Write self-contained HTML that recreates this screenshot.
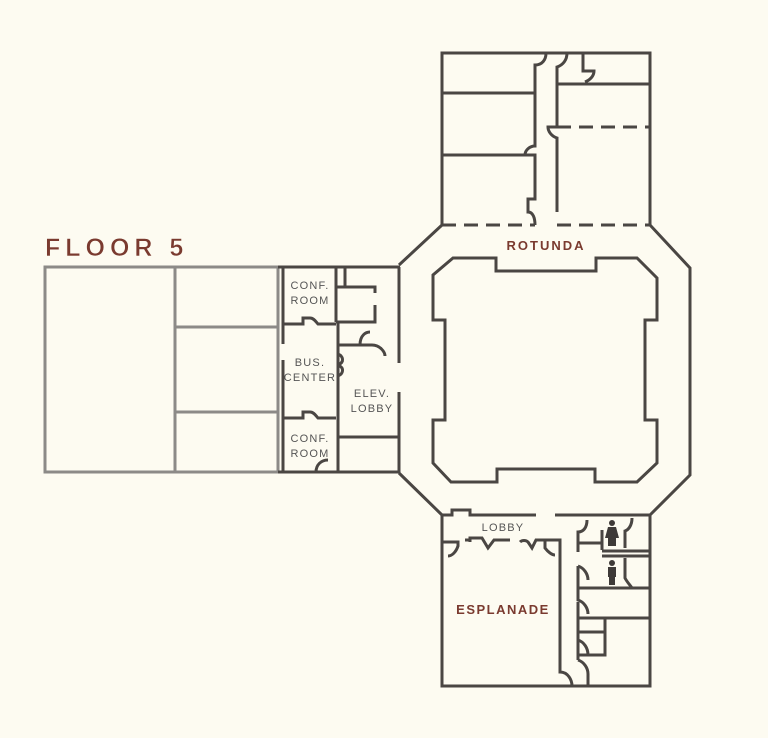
<!DOCTYPE html>
<html><head><meta charset="utf-8"><style>
html,body{margin:0;padding:0;background:#fdfbf1;}
svg{display:block}
text{font-family:"Liberation Sans","DejaVu Sans",sans-serif}
</style></head><body>
<svg width="768" height="738" viewBox="0 0 768 738" xmlns="http://www.w3.org/2000/svg">
<rect width="768" height="738" fill="#fdfbf1"/>
<g stroke="#8c8a87" stroke-width="3" fill="none">
<rect x="45" y="267" width="233" height="205"/>
<line x1="175" y1="267" x2="175" y2="472"/>
<line x1="175" y1="327" x2="278" y2="327"/>
<line x1="175" y1="412" x2="278" y2="412"/>
</g>
<g stroke="#4a4643" stroke-width="3" fill="none" stroke-linejoin="miter">
<line x1="278" y1="267" x2="400" y2="267"/>
<line x1="278" y1="472" x2="400" y2="472"/>
<line x1="283" y1="267" x2="283" y2="344"/>
<line x1="283" y1="360" x2="283" y2="472"/>
<line x1="336" y1="267" x2="336" y2="322"/>
<line x1="338" y1="322" x2="338" y2="472"/>
<line x1="345" y1="267" x2="345" y2="286"/>
<path d="M283,324 H303 V318 H310 C314,318 316,322 318,324 H336"/>
<path d="M283,418 H303 V412 H310 C314,412 316,416 318,418 H336"/>
<path d="M338,365 C345,362 343,356 338,354"/>
<path d="M338,365 C345,368 343,374 338,376"/>
<path d="M336,287 H375 V293"/>
<path d="M375,305 V322 H336"/>
<path d="M338,345 H360 C360,335 366,332 370,332"/>
<path d="M360,345 H372 C380,345 385,352 385,356"/>
<line x1="399" y1="267" x2="399" y2="363"/>
<line x1="399" y1="392" x2="399" y2="473"/>
<line x1="338" y1="437" x2="399" y2="437"/>
<path d="M316,472 C316,465 321,460 328,460"/>
<path d="M399,265 L442,225 M650,225 L690,268 V475 L650,515 M399,473 L442,515"/>
<path d="M453,258 H496 V271 H596 V258 H637 L657,278 V320 H645 V420 H657 V463 L637,482 H595 V469 H497 V482 H451 L433,463 V420 H445 V320 H433 V275 Z"/>
<path d="M442,225 V53 H650 V225"/>
<line x1="442" y1="93" x2="534" y2="93"/>
<line x1="442" y1="155" x2="535" y2="155"/>
<path d="M546,53 C546,60 542,65 535,65 V146 C530,146 525,150 525,155 H535 V199 H528 V212 C533,212 535,218 535,225"/>
<path d="M567,53 C567,60 563,65 557,67 V128"/>
<path d="M557,128 V127 H548 C548,131 551,136 557,138 V212"/>
<path d="M583,53 V71 H594 C594,76 590,80 585,82"/>
<line x1="557" y1="84" x2="650" y2="84"/>
<line x1="557" y1="127" x2="650" y2="127" stroke-dasharray="14,8"/>
<line x1="442" y1="225" x2="535" y2="225" stroke-dasharray="14,8"/>
<line x1="557" y1="225" x2="650" y2="225" stroke-dasharray="14,8"/>
<path d="M442,515 V686 H650 V515"/>
<path d="M442,515 H452 V510 H470 V515 H536"/>
<line x1="555" y1="515" x2="650" y2="515"/>
<path d="M442,542 H458 V546 C456,552 452,556 448,556 M470,542 V538 H482 L488,548 L494,540 H510 M520,542 C522,540 526,540 528,542 L532,548 L536,540 H545 V548 C548,552 552,555 555,555 M545,540 H560 V672 C568,672 572,680 572,686"/>
<path d="M465,540 H470"/>
<path d="M587,520 C587,528 583,532 578,532 V552"/>
<line x1="578" y1="543" x2="602" y2="543"/>
<line x1="602" y1="530" x2="602" y2="550"/>
<line x1="602" y1="551" x2="649" y2="551"/>
<line x1="602" y1="556" x2="649" y2="556"/>
<path d="M632,518 C632,526 628,530 625,531 V548 M625,558 V578 C627,582 630,585 632,588"/>
<path d="M578,566 C584,568 588,574 588,580 M578,566 V588 H649"/>
<path d="M578,588 V600 C584,602 588,608 588,614 M578,602 V618 H649"/>
<path d="M578,618 V655 H605 V618 M578,632 H605 M578,640 C584,642 588,648 588,655"/>
<path d="M578,660 C584,662 588,668 588,674 V686 M578,660 V655"/>
</g>
<g fill="#3e3a38">
<circle cx="612" cy="523" r="3"/>
<path d="M608,527 H616 L619,538 H616 V546 H608 V538 H605 Z"/>
<circle cx="612" cy="563" r="3"/>
<rect x="608" y="567" width="8" height="10"/>
<rect x="609" y="576" width="6" height="9"/>
</g>
<text x="45" y="256" font-size="25" fill="#7a3a2f" letter-spacing="5" font-weight="bold" stroke="#fdfbf1" stroke-width="0.6">FLOOR 5</text>
<text x="546" y="250" font-size="13" font-weight="bold" fill="#7a3a2f" letter-spacing="2" text-anchor="middle">ROTUNDA</text>
<text x="503" y="614" font-size="13" font-weight="bold" fill="#7a3a2f" letter-spacing="1.5" text-anchor="middle">ESPLANADE</text>
<g font-size="11" fill="#555" text-anchor="middle" letter-spacing="1.2">
<text x="310" y="289">CONF.</text><text x="310" y="304">ROOM</text>
<text x="310" y="366">BUS.</text><text x="310" y="381">CENTER</text>
<text x="372" y="397">ELEV.</text><text x="372" y="412">LOBBY</text>
<text x="310" y="442">CONF.</text><text x="310" y="457">ROOM</text>
<text x="503" y="531">LOBBY</text>
</g>
</svg>
</body></html>
